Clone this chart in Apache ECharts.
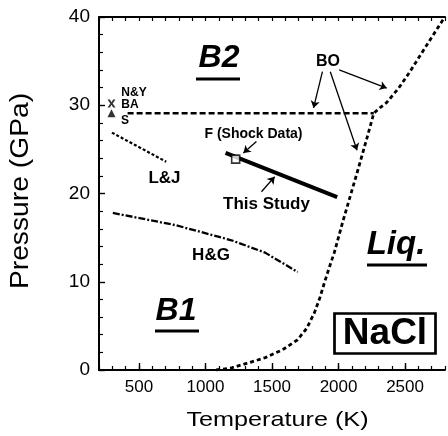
<!DOCTYPE html>
<html><head><meta charset="utf-8">
<script src="https://cdn.jsdelivr.net/npm/echarts@6/dist/echarts.min.js"></script>
<style>html,body{margin:0;padding:0;background:#fff}#c{width:448px;height:436px}</style>
</head><body><div id="c"></div>
<script>
// ---- data ----
const xMajorTicks = [500, 1000, 1500, 2000, 2500];
const yTicks = [0, 10, 20, 30, 40];
const meltT = [1080,1195,1320,1450,1580,1690,1760,1819,1860,1894,1930,1968,2030,2090,2150,2210,2265,2310,2361,2450,2532,2620,2700,2790];
const meltP = [0,0.23,0.8,1.4,2.3,3.4,4.7,6.5,8.2,9.9,11.6,13.3,16.7,19.8,22.9,26.1,29.1,29.7,30.3,31.9,33.7,35.8,37.7,39.8];
const b1b2T = [415, 2265];
const b1b2P = [29.1, 29.1];
const ljT = [297, 705];
const ljP = [26.9, 23.6];
const hgT = [304, 779, 1195, 1448, 1693];
const hgP = [17.8, 16.4, 14.7, 13.3, 11.1];
const studyT = [1151, 1990];
const studyP = [24.6, 19.6];
const shockT = [1227];
const shockP = [23.9];
const nyT = [294];
const nyP = [30.2];
const sT = [294];
const sP = [29.1];
const arrowFrom = [[1383,25.9],[1421,20.2],[1879,33.8],[1938,33.8],[2005,34.0]];
const arrowTo   = [[1285,24.6],[1520,21.9],[1812,29.7],[2139,24.9],[2362,31.95]];

const zip = (a, b) => a.map((v, i) => [v, b[i]]);
const FF = '"Liberation Sans", Arial, Helvetica, sans-serif';

const chart = echarts.init(document.getElementById('c'), null, {renderer: 'canvas'});

function txt(text, x, y, size, opts) {
  opts = opts || {};
  return {
    type: 'text', x: x, y: y, z: 100,
    rotation: opts.rotation || 0,
    scaleX: opts.scaleX || 1,
    style: {
      text: text, x: 0, y: 0,
      font: (opts.italic ? 'italic ' : '') + (opts.bold ? 'bold ' : '') + size + 'px ' + FF,
      fill: '#000',
      align: 'center', verticalAlign: 'middle',
      textAlign: 'center', textVerticalAlign: 'middle'
    }
  };
}
function bar(x, y, w, h) {
  return {type: 'rect', z: 100, shape: {x: x, y: y, width: w, height: h}, style: {fill: '#000'}};
}

const baseX = {type: 'value', min: 200, max: 2800, splitLine: {show: false}};

const option = {
  animation: false,
  backgroundColor: '#fff',
  grid: {left: 99, right: 0, top: 17, bottom: 66, containLabel: false},
  xAxis: [
    Object.assign({}, baseX, {
      position: 'bottom', interval: 100,
      axisLine: {show: true, lineStyle: {color: '#000', width: 2}},
      axisTick: {show: true, inside: true, length: 4, lineStyle: {color: '#000', width: 1.2}},
      axisLabel: {show: true, color: '#000', fontSize: 17, fontFamily: FF, margin: 9,
        formatter: v => (xMajorTicks.indexOf(v) >= 0 ? String(v) : '')}
    }),
    Object.assign({}, baseX, {
      position: 'bottom',
      axisLine: {show: false},
      axisTick: {show: true, inside: true, length: 7, customValues: xMajorTicks, lineStyle: {color: '#000', width: 1.4}},
      axisLabel: {show: false}
    }),
    Object.assign({}, baseX, {
      position: 'top', interval: 100,
      axisLine: {show: true, lineStyle: {color: '#000', width: 2}},
      axisTick: {show: true, inside: true, length: 4, lineStyle: {color: '#000', width: 1.2}},
      axisLabel: {show: false}
    })
  ],
  yAxis: [{
    type: 'value', min: 0, max: 40, interval: 10, position: 'left',
    splitLine: {show: false},
    axisLine: {show: true, lineStyle: {color: '#000', width: 2}},
    axisTick: {show: true, inside: true, length: 6, lineStyle: {color: '#000', width: 1.4}},
    minorTick: {show: true, splitNumber: 5, length: 4, lineStyle: {color: '#000', width: 1.2}},
    axisLabel: {color: '#000', fontSize: 19, fontFamily: FF, margin: 9,
      formatter: v => (yTicks.indexOf(v) >= 0 ? String(v) : '')}
  }],
  series: [
    {type: 'line', data: zip(meltT, meltP), symbol: 'none', silent: true,
      lineStyle: {color: '#000', width: 2.8, type: [4, 3]}},
    {type: 'line', data: zip(b1b2T, b1b2P), symbol: 'none', silent: true,
      lineStyle: {color: '#000', width: 2.4, type: [6, 3]}},
    {type: 'line', data: zip(ljT, ljP), symbol: 'none', silent: true,
      lineStyle: {color: '#000', width: 2.2, type: [3, 2]}},
    {type: 'line', data: zip(hgT, hgP), symbol: 'none', silent: true,
      lineStyle: {color: '#000', width: 2.3, type: [7, 2, 2, 2]}},
    {type: 'line', data: zip(studyT, studyP), symbol: 'none', silent: true,
      lineStyle: {color: '#000', width: 4},
      markLine: {
        silent: true, animation: false,
        symbol: ['none', 'arrow'], symbolSize: 7,
        label: {show: false},
        lineStyle: {color: '#000', width: 1.3, type: 'solid'},
        emphasis: {disabled: true},
        data: arrowFrom.map((f, i) => [{coord: f}, {coord: arrowTo[i]}])
      }},
    {type: 'scatter', data: zip(shockT, shockP), symbol: 'rect', symbolSize: 8, silent: true, z: 5,
      itemStyle: {color: '#fff', borderColor: '#000', borderWidth: 1.6}},
    {type: 'scatter', data: zip(nyT, nyP), silent: true,
      symbol: 'path://M0,0L3,0L5,3.5L7,0L10,0L6.5,5L10,10L7,10L5,6.5L3,10L0,10L3.5,5Z',
      symbolSize: 8, itemStyle: {color: '#000'}},
    {type: 'scatter', data: zip(sT, sP), silent: true, symbol: 'triangle', symbolSize: 8,
      itemStyle: {color: '#000'}}
  ],
  graphic: [
    txt('B2', 219, 58, 32, {bold: true, italic: true}),
    bar(196, 77.5, 44, 3),
    txt('B1', 176, 311.5, 32, {bold: true, italic: true}),
    bar(155, 329.5, 44, 3),
    txt('Liq.', 396, 245, 33, {bold: true, italic: true}),
    bar(367, 263.5, 60, 3),
    {type: 'rect', z: 99, shape: {x: 334.5, y: 313.5, width: 101, height: 40},
      style: {fill: '#fff', stroke: '#000', lineWidth: 2.7}},
    txt('NaCl', 385, 334, 37, {bold: true}),
    txt('BO', 328, 62, 16, {bold: true}),
    txt('N&Y', 134, 93, 12, {bold: true}),
    txt('BA', 130, 105, 12, {bold: true}),
    txt('S', 125, 121, 12, {bold: true}),
    txt('F (Shock Data)', 253.5, 134, 14, {bold: true}),
    txt('This Study', 266.5, 204, 17, {bold: true}),
    txt('L&J', 164.5, 178, 17, {bold: true}),
    txt('H&G', 211, 255, 17, {bold: true}),
    txt('Temperature (K)', 277.5, 420, 21, {scaleX: 1.2}),
    txt('Pressure (GPa)', 21, 191, 25, {rotation: Math.PI / 2, scaleX: 1.13})
  ]
};
chart.setOption(option);
</script></body></html>
